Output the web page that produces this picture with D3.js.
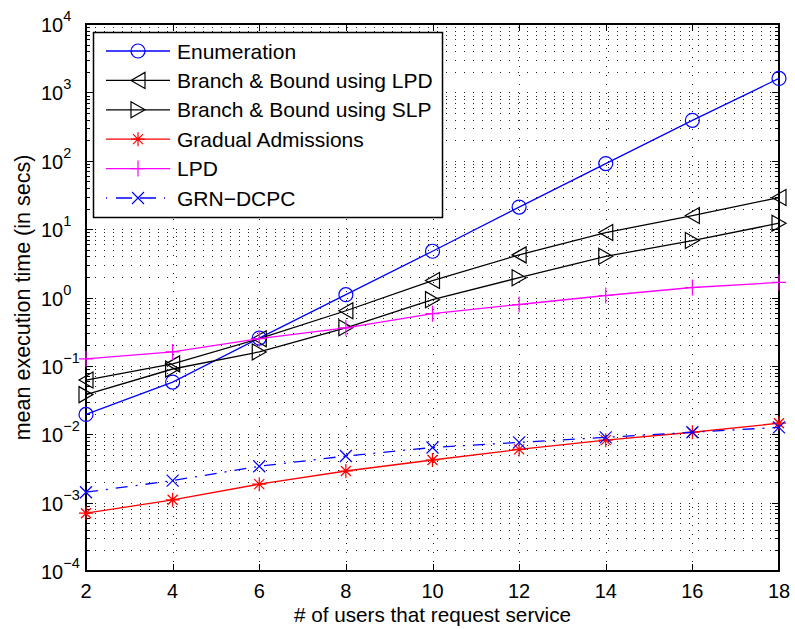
<!DOCTYPE html>
<html><head><meta charset="utf-8">
<script src="https://cdn.jsdelivr.net/npm/d3@7"></script>
<style>body{margin:0;background:#fff}svg{display:block;font-family:"Liberation Sans",Arial,sans-serif}</style>
</head><body><svg id="c" width="795" height="629"></svg>
<script>
const users = [2,4,6,8,10,12,14,16,18];
const enumeration = [0.0195,0.058,0.255,1.1,4.75,21,91,390,1600];
const bbLPD = [0.062,0.107,0.25,0.64,1.77,4.2,8.9,15.8,29];
const bbSLP = [0.038,0.09,0.16,0.36,0.93,1.95,4.0,6.8,12.2];
const gradual = [0.0007,0.0011,0.00186,0.0029,0.0042,0.006,0.0082,0.0107,0.0145];
const lpd = [0.127,0.16,0.25,0.36,0.58,0.79,1.07,1.4,1.66];
const grn = [0.00142,0.0021,0.0034,0.0048,0.0064,0.0076,0.009,0.0107,0.0126];
const xTicks = [2,4,6,8,10,12,14,16,18];
const yExps = [-4,-3,-2,-1,0,1,2,3,4];
const seriesNames = ["Enumeration","Branch & Bound using LPD","Branch & Bound using SLP","Gradual Admissions","LPD","GRN\u2212DCPC"];
const xLabel = "# of users that request service";
const yLabel = "mean execution time (in secs)";

const series = [
  {name:seriesNames[0], vals:enumeration, color:"#0000ff", marker:"circle", dash:null},
  {name:seriesNames[1], vals:bbLPD, color:"#000000", marker:"triL", dash:null},
  {name:seriesNames[2], vals:bbSLP, color:"#000000", marker:"triR", dash:null},
  {name:seriesNames[3], vals:gradual, color:"#ff0000", marker:"star", dash:null},
  {name:seriesNames[4], vals:lpd, color:"#ff00ff", marker:"plus", dash:null},
  {name:seriesNames[5], vals:grn, color:"#0000ff", marker:"x", dash:"12,8,2,8"}
];

const W=795,H=629,m={l:86,t:24,r:16,b:58};
const svg=d3.select("#c");
const x=d3.scaleLinear().domain([2,18]).range([m.l,W-m.r]);
const y=d3.scaleLog().domain([1e-4,1e4]).range([H-m.b,m.t]);
const g=svg.append("g");

// grid
const minorVals=[];
for(let e=-4;e<4;e++){for(let k=1;k<=9;k++){minorVals.push(k*Math.pow(10,e));}}
minorVals.push(1e4);
const grid=g.append("g").attr("stroke","#222").attr("stroke-width",1).attr("stroke-dasharray","1,8").attr("shape-rendering","crispEdges");
grid.selectAll("line.h").data(minorVals.filter(v=>v>1e-4&&v<1e4)).join("line")
  .attr("x1",m.l).attr("x2",W-m.r).attr("y1",d=>Math.round(y(d))+0.5).attr("y2",d=>Math.round(y(d))+0.5);
grid.selectAll("line.v").data(xTicks.slice(1,-1)).join("line")
  .attr("x1",d=>Math.round(x(d))+0.5).attr("x2",d=>Math.round(x(d))+0.5).attr("y1",H-m.b).attr("y2",m.t);

// axes with inward ticks
const minorOnly=minorVals.filter(v=>Math.abs(Math.log10(v)-Math.round(Math.log10(v)))>1e-9);
const tickG=g.append("g").attr("stroke","#000").attr("stroke-width",1).attr("shape-rendering","crispEdges");
function yt(v,len){
  const yy=Math.round(y(v))+0.5;
  tickG.append("line").attr("x1",m.l).attr("x2",m.l+len).attr("y1",yy).attr("y2",yy);
  tickG.append("line").attr("x1",W-m.r).attr("x2",W-m.r-len).attr("y1",yy).attr("y2",yy);
}
minorOnly.forEach(v=>yt(v,4));
yExps.forEach(e=>yt(Math.pow(10,e),7));
xTicks.forEach(v=>{
  const xx=Math.round(x(v))+0.5;
  tickG.append("line").attr("x1",xx).attr("x2",xx).attr("y1",H-m.b).attr("y2",H-m.b-7);
  tickG.append("line").attr("x1",xx).attr("x2",xx).attr("y1",m.t).attr("y2",m.t+7);
});
g.append("rect").attr("x",m.l).attr("y",m.t).attr("width",W-m.l-m.r).attr("height",H-m.t-m.b)
  .attr("fill","none").attr("stroke","#000").attr("stroke-width",2);

// tick labels
const tl=g.append("g").attr("font-size",20).attr("fill","#000");
tl.selectAll("text.x").data(xTicks).join("text").attr("x",d=>x(d)).attr("y",598)
  .attr("text-anchor","middle").text(d=>d);
yExps.forEach(e=>{
  const t=tl.append("text").attr("x",41).attr("y",y(Math.pow(10,e))+8).attr("text-anchor","start");
  t.append("tspan").text("10");
  t.append("tspan").attr("font-size",14.5).attr("dy",-11).text(e<0?"\u2212"+(-e):String(e));
});
tl.append("text").attr("x",(m.l+W-m.r)/2).attr("y",622).attr("font-size",20.7).attr("text-anchor","middle").text(xLabel);
tl.append("text").attr("transform",`translate(30,${(m.t+H-m.b)/2}) rotate(-90)`).attr("font-size",21.5).attr("text-anchor","middle").text(yLabel);

// markers
function marker(sel,type,color,cx,cy){
  const s=sel.append("g").attr("transform",`translate(${cx},${cy})`).attr("stroke",color).attr("fill","none").attr("stroke-width",1.2);
  if(type==="circle") s.append("circle").attr("r",7);
  else if(type==="triL") s.append("path").attr("d","M-7,0L7,-8L7,8Z");
  else if(type==="triR") s.append("path").attr("d","M7,0L-7,-8L-7,8Z");
  else if(type==="star"){
    s.append("path").attr("d","M-7,0H7M0,-7V7M-5,-5L5,5M-5,5L5,-5");
  } else if(type==="plus") s.append("path").attr("d","M-7,0H7M0,-8V8");
  else if(type==="x") s.append("path").attr("d","M-6,-6L6,6M-6,6L6,-6");
}
const lineGen=d3.line().x(d=>x(d[0])).y(d=>y(d[1]));
const plot=g.append("g");
series.forEach(s=>{
  const pts=users.map((u,i)=>[u,s.vals[i]]);
  plot.append("path").datum(pts).attr("d",lineGen).attr("fill","none").attr("stroke",s.color)
    .attr("stroke-width",1.3).attr("stroke-dasharray",s.dash);
  pts.forEach(p=>marker(plot,s.marker,s.color,x(p[0]),y(p[1])));
});

// legend
const lg=g.append("g");
lg.append("rect").attr("x",93.5).attr("y",32.5).attr("width",349).attr("height",185).attr("fill","#fff").attr("stroke","#000").attr("stroke-width",1.5);
series.forEach((s,i)=>{
  const yy=51+i*29.4;
  lg.append("line").attr("x1",106).attr("x2",170).attr("y1",yy).attr("y2",yy).attr("stroke",s.color).attr("stroke-width",1.3).attr("stroke-dasharray",s.dash?"1,9,16,8,16,8":null);
  marker(lg,s.marker,s.color,138,yy);
  lg.append("text").attr("x",177).attr("y",yy+7.5).attr("font-size",21).text(s.name);
});
</script></body></html>
